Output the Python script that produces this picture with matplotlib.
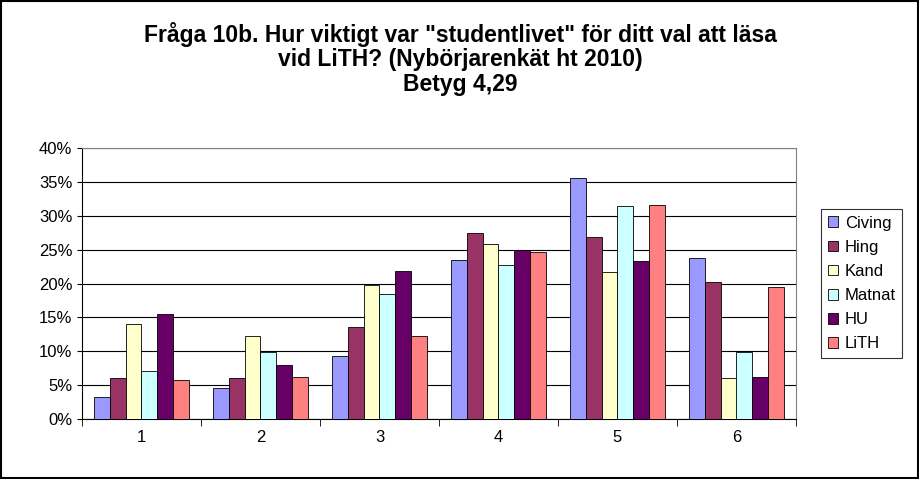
import numpy as np
import matplotlib.pyplot as plt
from matplotlib.patches import Rectangle

plt.rcParams['font.family'] = 'Liberation Sans'

categories = ['1', '2', '3', '4', '5', '6']
series = ['Civing', 'Hing', 'Kand', 'Matnat', 'HU', 'LiTH']
civing = [3.3, 4.6, 9.3, 23.5, 35.5, 23.8]
hing = [6.0, 6.0, 13.6, 27.4, 26.9, 20.2]
kand = [14.0, 12.3, 19.8, 25.9, 21.7, 6.1]
matnat = [7.1, 9.9, 18.4, 22.8, 31.5, 9.9]
hu = [15.5, 7.9, 21.9, 25.0, 23.3, 6.2]
lith = [5.8, 6.2, 12.2, 24.6, 31.6, 19.5]
values = [civing, hing, kand, matnat, hu, lith]
colors = ['#9999FF', '#993366', '#FFFFCC', '#CCFFFF', '#660066', '#FF8080']

fig = plt.figure(figsize=(9.2, 4.79), dpi=100)
fig.patches.append(Rectangle((0.001, 0.002), 0.997, 0.995, transform=fig.transFigure,
                             fill=False, edgecolor='black', linewidth=1.5))
ax = fig.add_axes([82/920, 1-419/479, 714/920, 271/479])

x = np.arange(len(categories))
w = 0.133
for i, (name, vals) in enumerate(zip(series, values)):
    ax.bar(x + (i - 2.5) * w, vals, w, color=colors[i], edgecolor='black',
           linewidth=0.6, label=name, zorder=3)

ax.set_xlim(-0.5, 5.5)
ax.set_ylim(0, 40)
ax.set_yticks(range(0, 41, 5))
ax.set_yticklabels([f'{v}%' for v in range(0, 41, 5)], fontsize=12)
ax.set_xticks(x)
ax.set_xticklabels(categories, fontsize=12)
ax.set_xticks(np.arange(-0.5, 6, 1), minor=True)
ax.tick_params(axis='x', which='major', length=0, pad=8)
ax.tick_params(axis='x', which='minor', length=5)
ax.yaxis.grid(True, color='black', linewidth=0.8, zorder=0)
for s in ax.spines.values():
    s.set_color('#808080')
ax.spines['bottom'].set_color('black')
ax.spines['left'].set_color('black')

fig.text(0.5, 0.955, 'Fråga 10b. Hur viktigt var "studentlivet" för ditt val att läsa\n'
         'vid LiTH? (Nybörjarenkät ht 2010)\nBetyg 4,29',
         ha='center', va='top', fontsize=16.5, fontweight='bold', linespacing=1.1)

leg = ax.legend(loc='center left', bbox_to_anchor=(813/714 - 82/714, 0.5),
                fontsize=12, frameon=True, fancybox=False, edgecolor='black',
                handlelength=0.6, handleheight=0.6, borderpad=0.4, labelspacing=0.55,
                handletextpad=0.4)
leg.get_frame().set_linewidth(0.8)

fig.savefig('out.png', dpi=100)
